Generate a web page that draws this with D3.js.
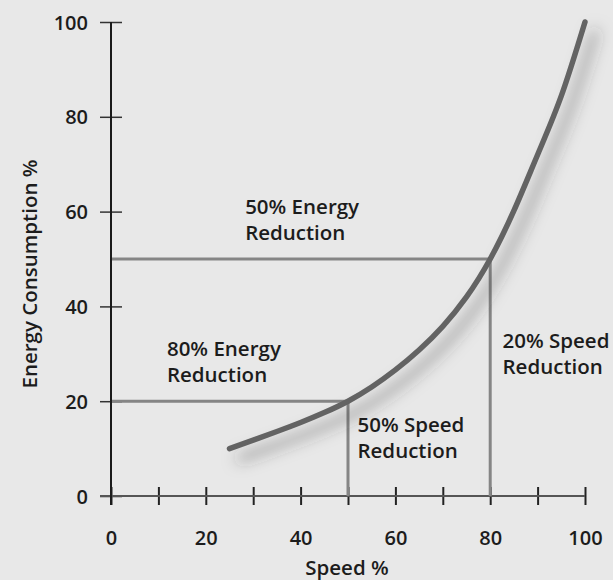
<!DOCTYPE html>
<html>
<head>
<meta charset="utf-8">
<script src="https://cdn.jsdelivr.net/npm/d3@7"></script>
<style>
  html, body { margin: 0; padding: 0; background: #e8e8e8; }
  svg { display: block; }
  text { font-family: "Open Sans", "Noto Sans", sans-serif; font-weight: 600; fill: #1c1c1c; }
</style>
</head>
<body>
<svg id="chart" width="613" height="580"></svg>
<script>
// ---- data ----
const speed = [25, 30, 35, 40, 45, 50, 55, 60, 65, 70, 75, 80, 85, 90, 95, 100];
const energy = [10, 11.8, 13.6, 15.5, 17.6, 20, 23, 26.6, 30.8, 35.8, 42, 50, 60.2, 72, 84.4, 100];
const xTicks = [0, 10, 20, 30, 40, 50, 60, 70, 80, 90, 100];
const xTickLabels = [0, 20, 40, 60, 80, 100];
const yTicks = [0, 20, 40, 60, 80, 100];
const refPoints = [ {x: 50, y: 20}, {x: 80, y: 50} ];
const annotations = [
  { lines: ["50% Energy", "Reduction"], x: 28.3, y: 59.5 },
  { lines: ["80% Energy", "Reduction"], x: 11.8, y: 29.5 },
  { lines: ["50% Speed", "Reduction"], x: 52.0, y: 13.5 },
  { lines: ["20% Speed", "Reduction"], x: 82.6, y: 31.3 }
];
const xTitle = "Speed %";
const yTitle = "Energy Consumption %";

// ---- layout ----
const svg = d3.select("#chart");
const x = d3.scaleLinear().domain([0, 100]).range([111, 585]);
const y = d3.scaleLinear().domain([0, 100]).range([496, 22]);

svg.append("rect").attr("width", 613).attr("height", 580).attr("fill", "#e8e8e8");

const defs = svg.append("defs");
const f = defs.append("filter").attr("id", "shadow")
  .attr("x", "-20%").attr("y", "-20%").attr("width", "150%").attr("height", "150%");
f.append("feGaussianBlur").attr("in", "SourceAlpha").attr("stdDeviation", 7.5).attr("result", "blur");
f.append("feOffset").attr("in", "blur").attr("dx", 10).attr("dy", 10).attr("result", "off");
f.append("feFlood").attr("flood-color", "#333").attr("flood-opacity", 0.55).attr("result", "col");
f.append("feComposite").attr("in", "col").attr("in2", "off").attr("operator", "in").attr("result", "sh");
const m = f.append("feMerge");
m.append("feMergeNode").attr("in", "sh");
m.append("feMergeNode").attr("in", "SourceGraphic");

// ---- axes ----
const xAxis = d3.axisBottom(x).tickValues(xTicks).tickSize(9).tickSizeOuter(0)
  .tickFormat(d => xTickLabels.includes(d) ? d : "");
const gx = svg.append("g").attr("transform", `translate(0,${y(0)})`).call(xAxis);
gx.select(".domain").remove();
gx.selectAll(".tick line").attr("y1", -9).attr("y2", 9).attr("stroke", "#222").attr("stroke-width", 2);
gx.selectAll(".tick text").attr("y", 49).attr("dy", 0).style("font-size", "20px").attr("fill", "#1c1c1c");

const yAxis = d3.axisLeft(y).tickValues(yTicks).tickSize(11).tickSizeOuter(0);
const gy = svg.append("g").attr("transform", `translate(${x(0)},0)`).call(yAxis);
gy.select(".domain").remove();
gy.selectAll(".tick line").attr("x1", -11).attr("x2", 11).attr("stroke", "#333").attr("stroke-width", 1.5);
gy.selectAll(".tick text").attr("x", -23).attr("dy", "0.35em").style("font-size", "20px").attr("fill", "#1c1c1c");

// axis lines
svg.append("line").attr("x1", x(0) - 11).attr("x2", x(100)).attr("y1", y(0)).attr("y2", y(0))
  .attr("stroke", "#555").attr("stroke-width", 2);
svg.append("line").attr("x1", x(0)).attr("x2", x(0)).attr("y1", y(100)).attr("y2", y(0) + 9)
  .attr("stroke", "#1a1a1a").attr("stroke-width", 2);

// ---- reference lines ----
refPoints.forEach(p => {
  svg.append("line").attr("x1", x(0) + 1).attr("x2", x(p.x)).attr("y1", y(p.y)).attr("y2", y(p.y))
    .attr("stroke", "#858585").attr("stroke-width", 3);
  svg.append("line").attr("x1", x(p.x)).attr("x2", x(p.x)).attr("y1", y(p.y)).attr("y2", y(0))
    .attr("stroke", "#858585").attr("stroke-width", 3);
});

// ---- curve ----
const data = speed.map((s, i) => ({ s, e: energy[i] }));
const line = d3.line().x(d => x(d.s)).y(d => y(d.e)).curve(d3.curveNatural);
svg.append("path").datum(data).attr("d", line)
  .attr("fill", "none").attr("stroke", "#646464").attr("stroke-width", 5.5)
  .attr("stroke-linecap", "round").attr("filter", "url(#shadow)");

// ---- annotations ----
annotations.forEach(a => {
  const t = svg.append("text").attr("x", x(a.x)).attr("y", y(a.y)).style("font-size", "20.5px");
  a.lines.forEach((l, i) => {
    t.append("tspan").attr("x", x(a.x)).attr("dy", i === 0 ? 0 : 26).text(l);
  });
});

// ---- titles ----
svg.append("text").attr("x", 347).attr("y", 575).attr("text-anchor", "middle")
  .style("font-size", "20.5px").text(xTitle);
svg.append("text").attr("transform", `translate(37,${274}) rotate(-90)`).attr("text-anchor", "middle")
  .style("font-size", "20.5px").text(yTitle);
</script>
</body>
</html>
